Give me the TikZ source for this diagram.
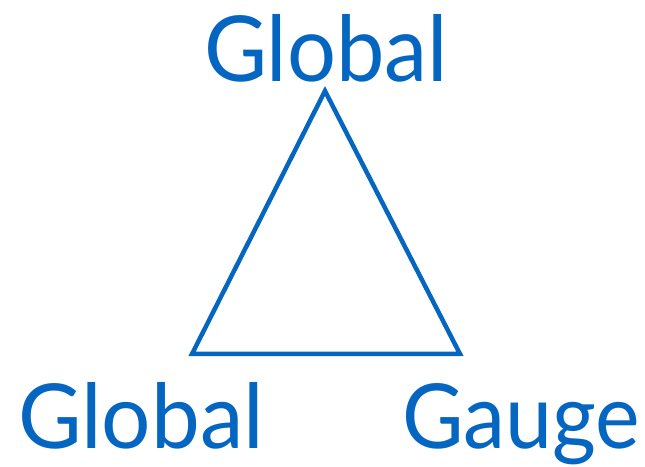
\documentclass[tikz,border=0pt]{standalone}
\usepackage{fontspec}
\setmainfont{Lato}
\usepackage{graphicx}
\definecolor{gblue}{HTML}{0566C2}
\begin{document}
\begin{tikzpicture}[x=1pt,y=1pt,
  lbl/.style={anchor=base west,inner sep=0pt,outer sep=0pt,text=gblue},
  edge/.style={draw=gblue,line width=4.5pt,line join=miter}]
\useasboundingbox (0,0) rectangle (645,466);
\node[lbl] (top) at (204,384) {\resizebox{244pt}{67pt}{Global}};
\node[lbl] (bl) at (18,18) {\resizebox{246pt}{66pt}{Global}};
\node[lbl] (br) at (402,18) {\resizebox{238pt}{65pt}{Gauge}};
\coordinate (a) at (325,375);
\coordinate (b) at (192,112);
\coordinate (c) at (460,112);
\draw[edge] (a) -- (b) -- (c) -- cycle;
\end{tikzpicture}
\end{document}
